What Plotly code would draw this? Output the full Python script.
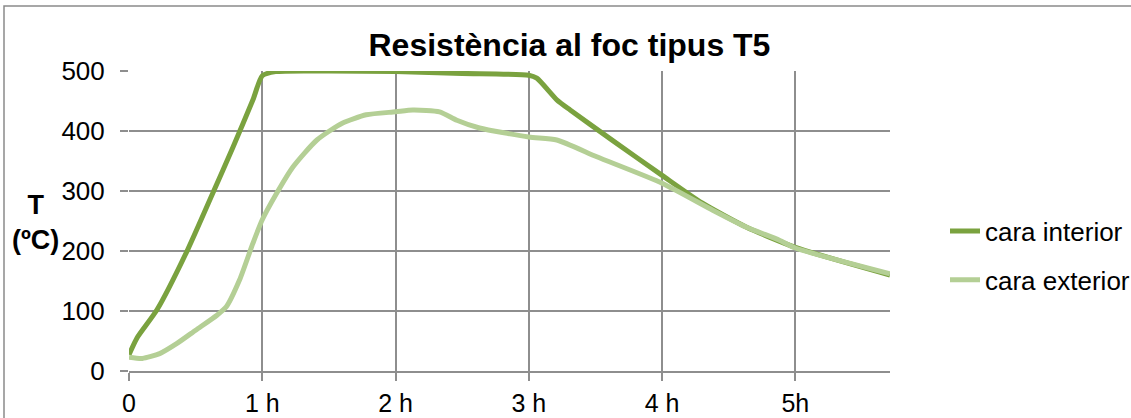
import plotly.graph_objects as go

# ---- data ----
hours_interior = [0, 0.06, 0.21, 0.44, 0.63, 0.78, 0.93, 1.0, 1.1, 1.5, 2.0, 2.5, 3.0, 3.06, 3.21, 3.31, 3.63, 4.0, 4.3, 4.63, 5.0, 5.71]
temp_interior = [27, 55, 102, 202, 297, 373, 452, 492, 499, 500, 499, 496, 493, 488, 452, 435, 384, 326, 280, 240, 206, 160]

hours_exterior = [0, 0.1, 0.23, 0.36, 0.5, 0.66, 0.73, 0.83, 0.93, 1.0, 1.11, 1.23, 1.41, 1.6, 1.78, 2.0, 2.13, 2.33, 2.46, 2.63, 3.0, 3.21, 3.51, 4.0, 4.38, 4.63, 4.88, 5.0, 5.71]
temp_exterior = [23, 21, 29, 46, 68, 93, 107, 152, 213, 252, 297, 340, 385, 413, 427, 432, 435, 432, 418, 405, 390, 385, 357, 313, 268, 240, 218, 205, 162]

series_names = ["cara interior", "cara exterior"]
x_tick_values = [0, 1, 2, 3, 4, 5]
x_tick_labels = ["0", "1 h", "2 h", "3 h", "4 h", "5h"]
y_tick_values = [0, 100, 200, 300, 400, 500]

title_text = "Resistència al foc tipus T5"
y_title_text = "<b>T</b><br><b>(ºC)</b>"

# ---- styles ----
FONT = "Liberation Sans, Arial, sans-serif"
GRID = "#8e8e8e"
COL_INT = "#7aa23f"
COL_EXT = "#b4cf95"

fig = go.Figure()
fig.add_trace(go.Scatter(x=hours_interior, y=temp_interior, mode="lines",
                         name=series_names[0], legendgroup="a",
                         line=dict(color=COL_INT, width=5, shape="spline", smoothing=0.6)))
fig.add_trace(go.Scatter(x=hours_exterior, y=temp_exterior, mode="lines",
                         name=series_names[1], legendgroup="b",
                         line=dict(color=COL_EXT, width=5, shape="spline", smoothing=0.6)))

fig.update_layout(
    width=1131, height=418,
    margin=dict(l=129, r=241, t=71, b=47, autoexpand=False),
    paper_bgcolor="white", plot_bgcolor="white",
    font=dict(family=FONT, color="black", size=26),
    title=dict(text="<b>" + title_text + "</b>", font=dict(size=32, family=FONT, color="black"),
               xref="container", x=0.5035, xanchor="center",
               yref="container", y=1 - 45 / 418, yanchor="middle"),
    showlegend=True,
    legend=dict(xref="container", yref="container",
                x=945 / 1131, xanchor="left", y=1 - 255.5 / 418, yanchor="middle",
                font=dict(size=26, family=FONT, color="black"),
                tracegroupgap=12, bgcolor="rgba(0,0,0,0)"),
    xaxis=dict(range=[0, 5.71], tickvals=x_tick_values, ticktext=x_tick_labels,
               showgrid=True, gridcolor=GRID, gridwidth=1.5,
               ticks="outside", ticklen=8, tickcolor=GRID, tickwidth=1.5,
               showline=True, linecolor=GRID, linewidth=1.5, automargin=False,
               zeroline=False, tickfont=dict(size=25), ticklabelstandoff=1),
    yaxis=dict(range=[0, 500], tickvals=y_tick_values,
               showgrid=True, gridcolor=GRID, gridwidth=1.5,
               ticks="outside", ticklen=8, tickcolor=GRID, tickwidth=1.5, automargin=False,
               showline=False, zeroline=False, tickfont=dict(size=26), ticklabelstandoff=10),
)

fig.add_annotation(text=y_title_text, xref="paper", yref="paper",
                   x=(35 - 129) / 761, y=(371 - 223) / 300,
                   xanchor="center", yanchor="middle",
                   showarrow=False, align="center",
                   font=dict(size=27, family=FONT, color="black"))

# outer chart border (extends beyond the visible window on right and bottom)
fig.add_shape(type="rect", xref="paper", yref="paper",
              x0=-125 / 761, y0=-0.3, x1=1.6, y1=(371 - 6) / 300,
              line=dict(color="#8a8a8a", width=1.5), layer="below")

fig.write_html("out.html", config={"displayModeBar": False},
               post_script="document.body.style.margin='0';")
